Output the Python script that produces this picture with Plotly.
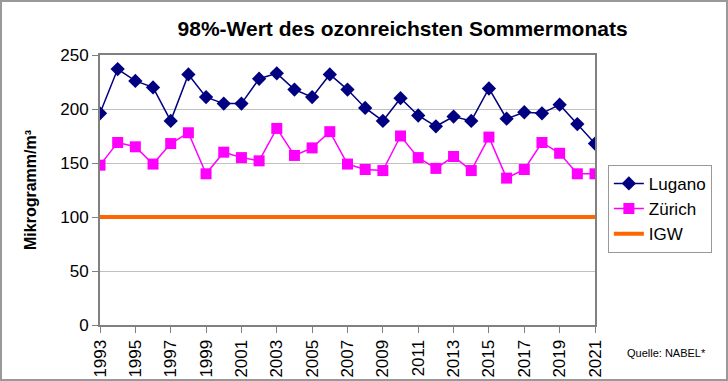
import plotly.graph_objects as go

years = list(range(1993, 2022))
lugano = [196, 237, 226, 220, 189, 232, 211, 205, 205, 228, 233, 218, 211, 232, 218,
          201, 189, 210, 194, 184, 193, 189, 219, 191, 197, 196, 204, 186, 168]
zuerich = [148, 169, 165, 149, 168, 178, 140, 160, 155, 152, 182, 157, 164, 179, 149,
           144, 143, 175, 155, 145, 156, 143, 174, 136, 144, 169, 159, 140, 140]
igw = [100] * len(years)
x_ticks = list(range(1993, 2022, 2))

fig = go.Figure()
fig.add_trace(go.Scatter(x=years, y=igw, mode="lines", name="IGW",
                         line=dict(color="#FF6600", width=4), legendrank=3))
fig.add_trace(go.Scatter(x=years, y=zuerich, mode="lines+markers", name="Zürich",
                         line=dict(color="#FF00FF", width=1.5),
                         marker=dict(symbol="square", size=11, color="#FF00FF"), legendrank=2))
fig.add_trace(go.Scatter(x=years, y=lugano, mode="lines+markers", name="Lugano",
                         line=dict(color="#000080", width=1.5),
                         marker=dict(symbol="diamond", size=11, color="#000080"), legendrank=1))

fig.update_layout(
    width=728, height=381,
    margin=dict(l=100, r=133, t=55, b=56, autoexpand=False),
    paper_bgcolor="white", plot_bgcolor="white",
    font=dict(family="Liberation Sans, Arial", color="black", size=16),
    title=dict(text="<b>98%-Wert des ozonreichsten Sommermonats</b>",
               x=0.553, xanchor="center", y=0.925, yanchor="middle",
               font=dict(size=21)),
    showlegend=True,
    legend=dict(x=1.026, y=0.593, xanchor="left", yanchor="top",
                bordercolor="#999999", borderwidth=1, font=dict(size=17),
                traceorder="normal", tracegroupgap=2),
    xaxis=dict(range=[1993, 2021], tickvals=x_ticks, ticktext=[str(v) for v in x_ticks],
               tickangle=-90, showgrid=False, showline=True, linecolor="#808080",
               linewidth=2, mirror=True, ticks="outside", ticklen=6, tickcolor="#808080",
               zeroline=False, tickfont=dict(size=17)),
    yaxis=dict(range=[0, 250], dtick=50, showgrid=True, gridcolor="#C0C0C0",
               showline=True, linecolor="#808080", linewidth=2, mirror=True,
               ticks="outside", ticklen=6, tickcolor="#808080", zeroline=False,
               title=dict(text="<b>Mikrogramm/m³</b>", font=dict(size=16), standoff=20),
               tickfont=dict(size=17)),
    shapes=[dict(type="rect", xref="paper", yref="paper",
                 x0=-99/495, x1=1 + 132/495, y0=-55/270, y1=1 + 54/270,
                 line=dict(color="#999999", width=2))],
    annotations=[dict(text="Quelle: NABEL*", xref="paper", yref="paper",
                      x=1.06, y=-0.104, xanchor="left", yanchor="middle",
                      showarrow=False, font=dict(size=11))],
)
fig.write_html("out.html", config={"displayModeBar": False},
               post_script="document.body.style.margin='0';document.body.style.overflow='hidden';")
